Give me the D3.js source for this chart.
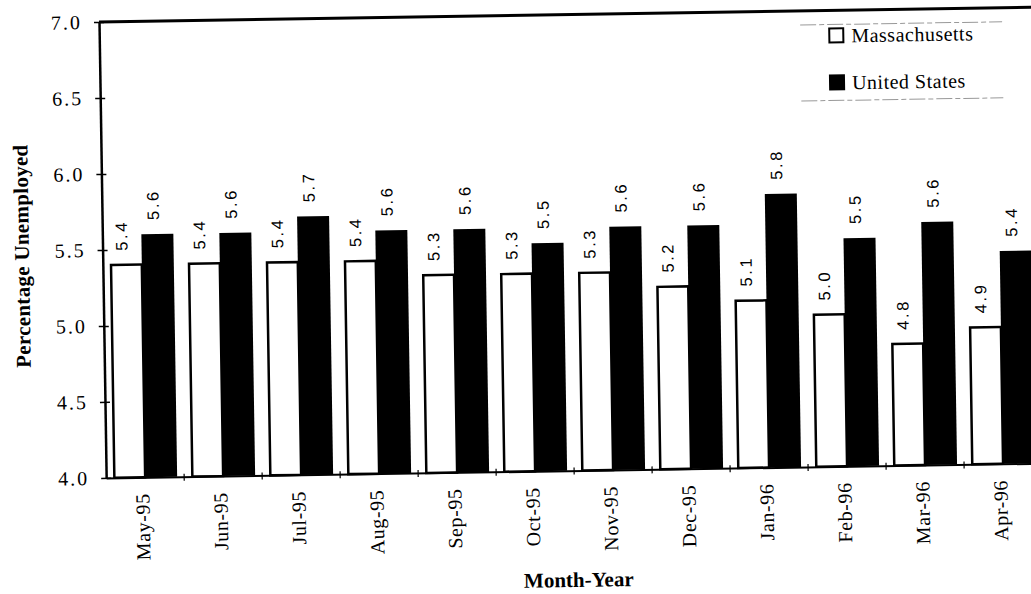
<!DOCTYPE html>
<html>
<head>
<meta charset="utf-8">
<script src="https://cdn.jsdelivr.net/npm/d3@7"></script>
<style>
  html, body { margin: 0; padding: 0; background: #fff; }
  svg { display: block; }
</style>
</head>
<body>
<svg id="chart" width="1031" height="594"></svg>
<script>
// Monthly unemployment rates, May 1995 - April 1996
const months = ["May-95", "Jun-95", "Jul-95", "Aug-95", "Sep-95", "Oct-95",
                "Nov-95", "Dec-95", "Jan-96", "Feb-96", "Mar-96", "Apr-96"];
const massachusetts = [5.4, 5.4, 5.4, 5.4, 5.3, 5.3, 5.3, 5.2, 5.1, 5.0, 4.8, 4.9];
const unitedStates  = [5.6, 5.6, 5.7, 5.6, 5.6, 5.5, 5.6, 5.6, 5.8, 5.5, 5.6, 5.4];
const seriesNames = ["Massachusetts", "United States"];
const yTicks = [4.0, 4.5, 5.0, 5.5, 6.0, 6.5, 7.0];
const yTitle = "Percentage Unemployed";
const xTitle = "Month-Year";

const seriesValues = [massachusetts, unitedStates];
const seriesFill = ["#fff", "#000"];

const plotW = 936, plotH = 456;
const svg = d3.select("#chart");

// the printed page sits slightly askew
const root = svg.append("g").attr("transform", "translate(99,22) rotate(-0.9)");

const x0 = d3.scaleBand().domain(months).range([0, plotW])
  .paddingInner(14 / 78).paddingOuter(7 / 78);
const x1 = d3.scaleBand().domain(d3.range(seriesNames.length)).range([0, x0.bandwidth()]);
const y = d3.scaleLinear().domain([4, 7]).range([plotH, 0]);
const fmt = d3.format(".1f");

// bars
const groups = root.selectAll("g.month").data(months).join("g")
  .attr("class", "month")
  .attr("transform", d => `translate(${x0(d)},0)`);

groups.selectAll("rect").data((m, i) => seriesValues.map((vals, s) => ({ s, v: vals[i] })))
  .join("rect")
  .attr("x", d => x1(d.s) + (d.s === 0 ? 1.2 : 0))
  .attr("width", d => x1.bandwidth() - (d.s === 0 ? 1.2 : 0))
  .attr("y", d => y(d.v))
  .attr("height", d => plotH - y(d.v))
  .attr("fill", d => seriesFill[d.s])
  .attr("stroke", "#000")
  .attr("stroke-width", d => d.s === 0 ? 2.5 : 0);

// value labels above each bar
groups.selectAll("text.val").data((m, i) => seriesValues.map((vals, s) => ({ s, v: vals[i] })))
  .join("text")
  .attr("class", "val")
  .attr("transform", d => `translate(${x1(d.s) + x1.bandwidth() / 2 - 4},${y(d.v) - 14}) rotate(-90)`)
  .attr("dy", "0.35em")
  .attr("text-anchor", "start")
  .attr("font-family", "'Liberation Sans', Arial, sans-serif")
  .attr("font-size", 16.5)
  .attr("letter-spacing", 2.6)
  .attr("fill", "#000")
  .text(d => fmt(d.v));

// y axis
const yAxis = root.append("g").call(
  d3.axisLeft(y).tickValues(yTicks).tickFormat(fmt).tickSizeInner(5).tickSizeOuter(0).tickPadding(12)
);
yAxis.select(".domain").attr("stroke-width", 2.5);
yAxis.selectAll(".tick line").attr("x1", -5).attr("x2", 5).attr("stroke-width", 1.5);
yAxis.selectAll(".tick text")
  .attr("font-family", "'Liberation Serif', 'Times New Roman', serif")
  .attr("font-size", 20)
  .attr("letter-spacing", 2)
  .attr("fill", "#000");

// top frame line
root.append("line")
  .attr("x1", 0).attr("x2", plotW).attr("y1", y(7)).attr("y2", y(7))
  .attr("stroke", "#000").attr("stroke-width", 3);

// x axis
const xAxis = root.append("g").attr("transform", `translate(0,${plotH})`)
  .call(d3.axisBottom(x0).tickSize(0).tickSizeOuter(0));
xAxis.select(".domain").attr("stroke-width", 2);
xAxis.selectAll(".tick text")
  .attr("transform", "rotate(-90)")
  .attr("x", -16).attr("y", -3).attr("dy", "0.35em")
  .attr("text-anchor", "end")
  .attr("font-family", "'Liberation Serif', 'Times New Roman', serif")
  .attr("font-size", 20)
  .attr("letter-spacing", 0.6)
  .attr("fill", "#000");

// small ticks between month groups
const gap = x0.step() - x0.bandwidth();
root.append("g").selectAll("line").data(months.slice(1))
  .join("line")
  .attr("x1", d => x0(d) - gap / 2).attr("x2", d => x0(d) - gap / 2)
  .attr("y1", plotH - 3).attr("y2", plotH + 4)
  .attr("stroke", "#000").attr("stroke-width", 1.2);

// axis titles
root.append("text")
  .attr("transform", `translate(-81,${plotH / 2 + 5}) rotate(-90)`)
  .attr("text-anchor", "middle").attr("dy", "0.35em")
  .attr("font-family", "'Liberation Serif', 'Times New Roman', serif")
  .attr("font-weight", "bold").attr("font-size", 21).attr("letter-spacing", 0.3)
  .text(yTitle);

root.append("text")
  .attr("x", plotW / 2 + 3).attr("y", 565).attr("dy", "0.35em")
  .attr("text-anchor", "middle")
  .attr("font-family", "'Liberation Serif', 'Times New Roman', serif")
  .attr("font-weight", "bold").attr("font-size", 21)
  .text(xTitle);

// legend
const legend = root.append("g").attr("transform", "translate(701,14)");
legend.selectAll("line.edge").data([0, 76]).join("line")
  .attr("class", "edge")
  .attr("x1", 0).attr("x2", 202).attr("y1", d => d).attr("y2", d => d)
  .attr("stroke", "#999").attr("stroke-width", 1).attr("stroke-dasharray", "16 3 5 3");

const items = legend.selectAll("g.item").data(seriesNames).join("g")
  .attr("class", "item")
  .attr("transform", (d, i) => `translate(29,${11 + i * 47})`);
items.append("rect")
  .attr("x", 0).attr("y", -7).attr("width", 14).attr("height", 14)
  .attr("fill", (d, i) => seriesFill[i])
  .attr("stroke", "#000").attr("stroke-width", 2);
items.append("text")
  .attr("x", 22).attr("dy", "0.35em")
  .attr("font-family", "'Liberation Serif', 'Times New Roman', serif")
  .attr("font-size", 20).attr("letter-spacing", 0.5)
  .text(d => d);
</script>
</body>
</html>
